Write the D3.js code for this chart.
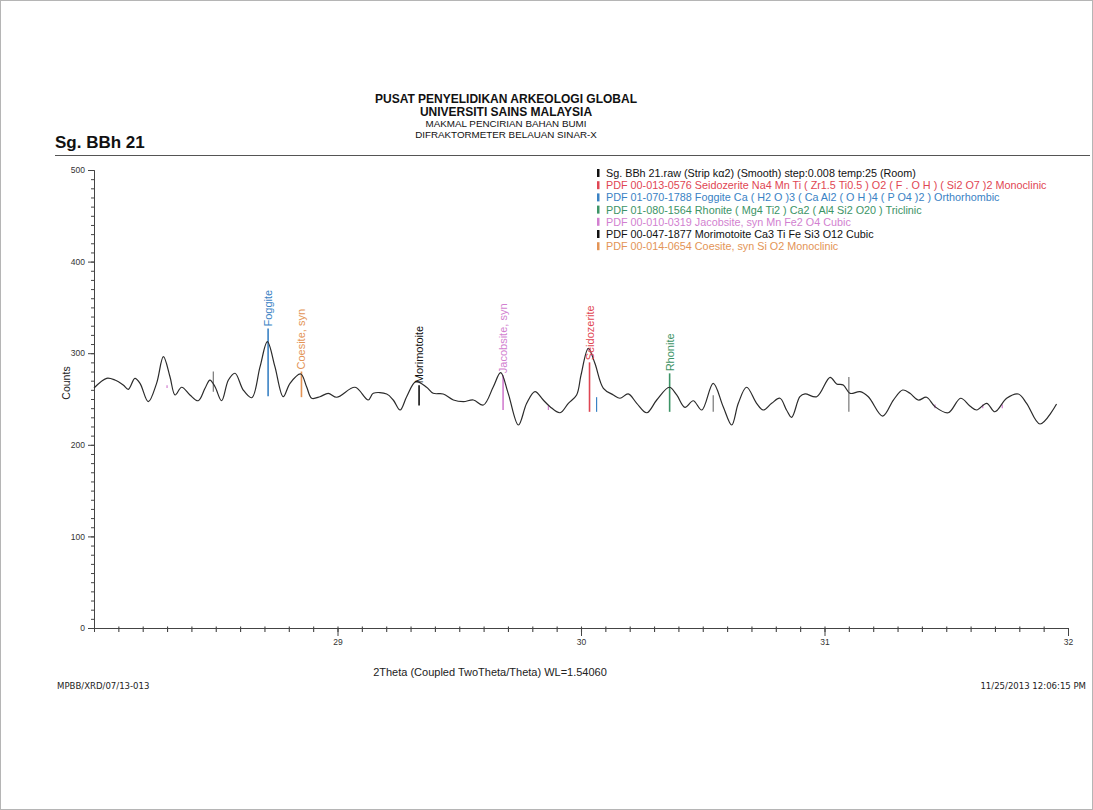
<!DOCTYPE html>
<html>
<head>
<meta charset="utf-8">
<script src="https://cdn.jsdelivr.net/npm/d3@7"></script>
<style>
  body { margin: 0; background: #fff; }
  svg { display: block; font-family: "Liberation Sans", Arial, sans-serif; }
  .narrow { font-family: "Liberation Sans Narrow", "DejaVu Sans Condensed", "Liberation Sans", sans-serif; }
</style>
</head>
<body>
<div class="chart"></div>
<script>
// page size
const width = 1093;
const height = 810;

// scan data: 2theta and counts
const twoTheta = [28.000, 28.052, 28.086, 28.120, 28.141, 28.168, 28.189, 28.223, 28.257, 28.285,
  28.312, 28.333, 28.360, 28.394, 28.428, 28.456, 28.476, 28.497, 28.524, 28.552,
  28.579, 28.613, 28.648, 28.682, 28.712, 28.743, 28.777, 28.805, 28.849, 28.873,
  28.894, 28.928, 28.962, 28.997, 29.072, 29.126, 29.147, 29.202, 29.229, 29.257,
  29.284, 29.322, 29.366, 29.393, 29.434, 29.476, 29.517, 29.558, 29.599, 29.640,
  29.670, 29.701, 29.743, 29.777, 29.811, 29.845, 29.873, 29.914, 29.948, 29.982,
  30.000, 30.030, 30.057, 30.092, 30.133, 30.160, 30.194, 30.229, 30.270, 30.311,
  30.363, 30.393, 30.427, 30.461, 30.496, 30.543, 30.584, 30.619, 30.646, 30.680,
  30.721, 30.748, 30.783, 30.817, 30.844, 30.865, 30.899, 30.920, 30.968, 31.023,
  31.050, 31.077, 31.105, 31.146, 31.180, 31.239, 31.283, 31.321, 31.351, 31.385,
  31.419, 31.454, 31.508, 31.559, 31.597, 31.625, 31.666, 31.700, 31.748, 31.796,
  31.830, 31.885, 31.953];
const counts = [262, 272.6, 270.7, 265.3, 260.6, 272.6, 267.1, 247.1, 267.1, 296.2,
  274.3, 254.4, 262.8, 254.4, 248.1, 261.7, 270.7, 263.4, 248.1, 270.7,
  278.1, 259.8, 251.4, 285.3, 312.6, 285.3, 252.5, 267.1, 277.3, 263.4,
  250.8, 252.5, 256.2, 251.9, 262.8, 248.9, 256.2, 255.5, 248.9, 238.0,
  252.5, 268.9, 262.8, 256.2, 255.5, 248.9, 247.1, 248.9, 243.4, 263.4,
  278.7, 256.2, 221.6, 245.3, 258.0, 248.9, 241.6, 235.0, 245.3, 254.4,
  276.0, 305.3, 289.0, 261.7, 254.4, 250.8, 255.5, 245.3, 235.0, 248.9,
  262.8, 254.4, 240.9, 248.1, 238.0, 267.1, 241.6, 221.6, 245.3, 262.8,
  245.3, 238.0, 245.3, 250.8, 238.0, 230.0, 252.5, 255.5, 252.5, 273.7,
  266.4, 265.3, 256.2, 258.0, 252.5, 231.4, 248.9, 259.8, 256.2, 248.9,
  251.9, 241.6, 235.0, 250.8, 242.4, 238.0, 245.3, 236.1, 250.8, 255.5,
  245.3, 222.7, 244.5];

// phase reference sticks: position, bottom and top counts, phase index, label
const stickPos = [28.715, 28.852, 29.335, 29.680, 30.035, 30.064, 30.364, 28.490, 30.543, 31.100, 29.866, 28.300, 31.454, 31.650, 31.730];
const stickLo  = [253, 252, 243, 238, 236, 236, 236, 258, 236, 236, 238, 262, 240, 240, 240];
const stickHi  = [327, 280, 265, 276, 290, 252, 278, 280, 254, 274, 243, 265, 244, 244, 244];
const stickPhase = [2, 6, 5, 4, 1, 2, 3, 0, 0, 0, 4, 4, 4, 4, 4];
const stickLabel = ['Foggite', 'Coesite, syn', 'Morimotoite', 'Jacobsite, syn', 'Seidozerite', '', 'Rhonite', '', '', '', '', '', '', '', ''];

// legend rows and phase colours
const legendText = [
  'Sg. BBh 21.raw (Strip k\u03b12) (Smooth) step:0.008 temp:25 (Room)',
  'PDF 00-013-0576 Seidozerite Na4 Mn Ti ( Zr1.5 Ti0.5 ) O2 ( F . O H ) ( Si2 O7 )2 Monoclinic',
  'PDF 01-070-1788 Foggite Ca ( H2 O )3 ( Ca Al2 ( O H )4 ( P O4 )2 ) Orthorhombic',
  'PDF 01-080-1564 Rhonite ( Mg4 Ti2 ) Ca2 ( Al4 Si2 O20 ) Triclinic',
  'PDF 00-010-0319 Jacobsite, syn Mn Fe2 O4 Cubic',
  'PDF 00-047-1877 Morimotoite Ca3 Ti Fe Si3 O12 Cubic',
  'PDF 00-014-0654 Coesite, syn Si O2 Monoclinic'
];
const phaseColor = ['#111111', '#df4653', '#3a82c4', '#3c9466', '#d27fd0', '#111111', '#e39456'];

// tick values
const yTicks = [0, 100, 200, 300, 400, 500];
const xTicks = [29, 30, 31, 32];

const headerLines = ['PUSAT PENYELIDIKAN ARKEOLOGI GLOBAL', 'UNIVERSITI SAINS MALAYSIA', 'MAKMAL PENCIRIAN BAHAN BUMI', 'DIFRAKTORMETER BELAUAN SINAR-X'];

let svg = d3.select('.chart').append('svg').attr('width', width).attr('height', height);

svg.append('rect').attr('x', 0.5).attr('y', 0.5).attr('width', width - 1).attr('height', height - 1)
  .attr('fill', '#fff').attr('stroke', '#b5b5b5');

// scales
const x = d3.scaleLinear().domain([28, 32]).range([94, 1068]);
const y = d3.scaleLinear().domain([0, 500]).range([628, 170]);

// header
svg.selectAll('.head')
  .data(headerLines)
  .join('text')
  .attr('class', 'head')
  .attr('x', 506)
  .attr('y', (d, i) => [103, 116, 127, 138][i])
  .attr('text-anchor', 'middle')
  .attr('font-size', (d, i) => i < 2 ? 12 : 9.8)
  .attr('font-weight', (d, i) => i < 2 ? 'bold' : 'normal')
  .attr('fill', '#111')
  .text(d => d);

svg.append('text').attr('x', 55).attr('y', 148).attr('font-size', 17).attr('font-weight', 'bold')
  .attr('fill', '#111').text('Sg. BBh 21');
svg.append('line').attr('x1', 55).attr('x2', 1090).attr('y1', 155.5).attr('y2', 155.5)
  .attr('stroke', '#555').attr('stroke-width', 1);

// axes
const yAxis = svg.append('g').attr('transform', 'translate(94,0)').attr('class', 'narrow');
yAxis.call(d3.axisLeft(y).tickValues(d3.range(0, 501, 10)).tickSize(3).tickFormat(''));
yAxis.append('g').call(d3.axisLeft(y).tickValues(yTicks).tickSize(6).tickSizeOuter(0));
yAxis.selectAll('text').attr('font-size', 8.5).attr('fill', '#333').attr('font-family', 'inherit');
yAxis.selectAll('line, path').attr('stroke', '#444');

const xAxis = svg.append('g').attr('transform', 'translate(0,628)').attr('class', 'narrow');
xAxis.call(d3.axisBottom(x).tickValues(d3.range(28.1, 32, 0.1)).tickSize(4).tickFormat(''));
xAxis.selectAll('.tick line').attr('y1', -1.5).attr('stroke-width', 1.1);
xAxis.append('g').call(d3.axisBottom(x).tickValues(xTicks).tickSize(8).tickSizeOuter(0).tickFormat(d3.format('d')));
xAxis.selectAll('text').attr('font-size', 8.5).attr('fill', '#333').attr('font-family', 'inherit');
xAxis.selectAll('line, path').attr('stroke', '#444');

svg.append('text').attr('transform', 'translate(70,383) rotate(-90)').attr('text-anchor', 'middle')
  .attr('font-size', 10.5).attr('fill', '#222').text('Counts');

// phase sticks
const stickIdx = d3.range(stickPos.length);
svg.selectAll('.stick')
  .data(stickIdx)
  .join('line')
  .attr('class', 'stick')
  .attr('x1', i => x(stickPos[i])).attr('x2', i => x(stickPos[i]))
  .attr('y1', i => y(stickLo[i])).attr('y2', i => y(stickHi[i]))
  .attr('stroke', i => stickPhase[i] === 0 ? '#777' : phaseColor[stickPhase[i]])
  .attr('stroke-width', i => stickLabel[i] ? 1.6 : 1.2);

// scan line
const line = d3.line().x((d, i) => x(twoTheta[i])).y(d => y(d)).curve(d3.curveCatmullRom.alpha(0.5));
svg.append('path').attr('d', line(counts)).attr('fill', 'none').attr('stroke', '#2b2b2b').attr('stroke-width', 1.2);

// stick labels
svg.selectAll('.slabel')
  .data(stickIdx.filter(i => stickLabel[i]))
  .join('text')
  .attr('class', 'slabel')
  .attr('transform', i => `translate(${x(stickPos[i]) + 4},${y(stickHi[i]) - 2}) rotate(-90)`)
  .attr('font-size', 11)
  .attr('fill', i => phaseColor[stickPhase[i]])
  .text(i => stickLabel[i]);

// legend
let legend = svg.selectAll('.leg')
  .data(legendText)
  .join('g')
  .attr('class', 'leg')
  .attr('transform', (d, i) => `translate(597,${177 + i * 12.2})`);
legend.append('rect').attr('x', 0).attr('y', -8).attr('width', 2.5).attr('height', 8)
  .attr('fill', (d, i) => phaseColor[i]);
legend.append('text').attr('x', 9).attr('y', 0).attr('font-size', 10.8)
  .attr('fill', (d, i) => phaseColor[i]).text(d => d);

// footer
svg.append('text').attr('x', 490).attr('y', 676).attr('text-anchor', 'middle').attr('font-size', 11)
  .attr('fill', '#222').text('2Theta (Coupled TwoTheta/Theta) WL=1.54060');
svg.append('text').attr('class', 'narrow').attr('x', 57).attr('y', 689).attr('font-size', 9.5)
  .attr('fill', '#222').text('MPBB/XRD/07/13-013');
svg.append('text').attr('class', 'narrow').attr('x', 1086).attr('y', 689).attr('text-anchor', 'end')
  .attr('font-size', 9.5).attr('fill', '#222').text('11/25/2013 12:06:15 PM');
</script>
</body>
</html>
